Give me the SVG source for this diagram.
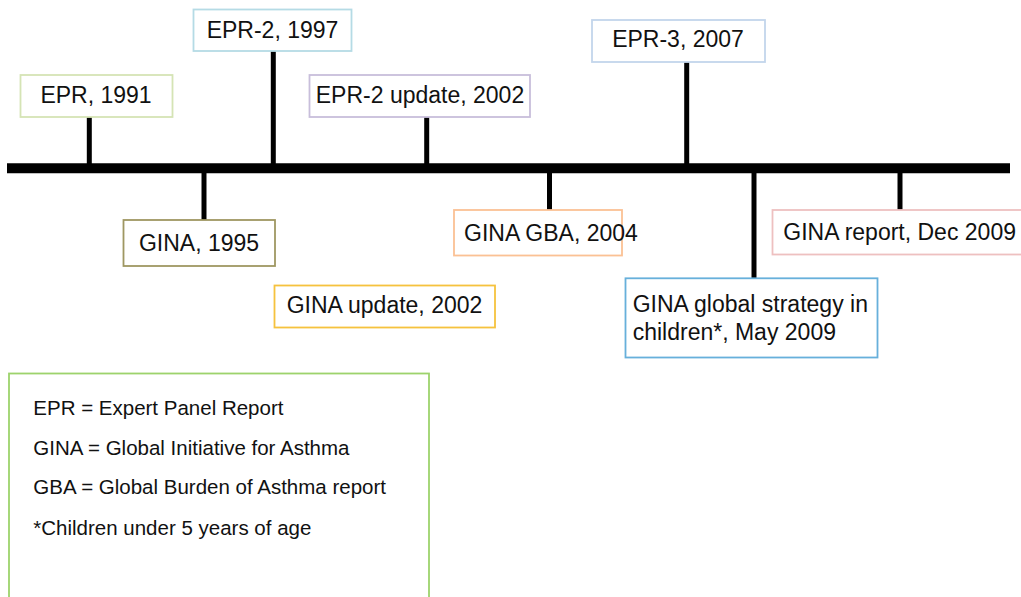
<svg xmlns="http://www.w3.org/2000/svg" width="1021" height="597" viewBox="0 0 1021 597">
<style>
  .box { fill: #ffffff; stroke-width: 1.8; }
  .lbl { font-family: "Liberation Sans", Arial, Helvetica, sans-serif; font-size: 23px; fill: #111111; }
  .leg { font-family: "Liberation Sans", Arial, Helvetica, sans-serif; font-size: 20.5px; fill: #111111; }
  .stem { stroke: #000000; stroke-width: 5; fill: none; }
  .bar { stroke: #000000; stroke-width: 10; fill: none; }
</style>
<rect x="0" y="0" width="1021" height="597" fill="#ffffff"/>
<g id="connectors">
  <line class="bar" x1="7" y1="168.3" x2="1010" y2="168.3"/>
  <line class="stem" x1="89.3" y1="117" x2="89.3" y2="164"/>
  <line class="stem" x1="273.3" y1="51" x2="273.3" y2="164"/>
  <line class="stem" x1="426.7" y1="117" x2="426.7" y2="164"/>
  <line class="stem" x1="686.7" y1="62" x2="686.7" y2="164"/>
  <line class="stem" x1="204" y1="172" x2="204" y2="220"/>
  <line class="stem" x1="549.5" y1="172" x2="549.5" y2="210"/>
  <line class="stem" x1="754" y1="172" x2="754" y2="278"/>
  <line class="stem" x1="900" y1="172" x2="900" y2="210"/>
</g>
<g id="epr1991">
  <rect class="box" x="20.5" y="75" width="152" height="42" stroke="#d5e4b5"/>
  <text class="lbl" x="96" y="103" text-anchor="middle">EPR, 1991</text>
</g>
<g id="epr2-1997">
  <rect class="box" x="193.5" y="9.5" width="158" height="41.5" stroke="#b5dbe5"/>
  <text class="lbl" x="272.5" y="38.3" text-anchor="middle">EPR-2, 1997</text>
</g>
<g id="epr2-update-2002">
  <rect class="box" x="309.5" y="75" width="220.5" height="42" stroke="#c8bedb"/>
  <text class="lbl" x="420" y="102.5" text-anchor="middle">EPR-2 update, 2002</text>
</g>
<g id="epr3-2007">
  <rect class="box" x="592" y="20" width="173" height="42" stroke="#c3d5ec"/>
  <text class="lbl" x="678" y="47.3" text-anchor="middle">EPR-3, 2007</text>
</g>
<g id="gina1995">
  <rect class="box" x="123.5" y="220" width="151.5" height="46" stroke="#9f9762"/>
  <text class="lbl" x="199" y="250.7" text-anchor="middle">GINA, 1995</text>
</g>
<g id="gina-update-2002">
  <rect class="box" x="274.5" y="285.5" width="220.5" height="42" stroke="#f6c23e"/>
  <text class="lbl" x="384.5" y="313.3" text-anchor="middle">GINA update, 2002</text>
</g>
<g id="gina-gba-2004">
  <rect class="box" x="454" y="210" width="168" height="45.5" stroke="#fbc194"/>
  <text class="lbl" x="464" y="240.7">GINA GBA, 2004</text>
</g>
<g id="gina-children-2009">
  <rect class="box" x="625.5" y="278.3" width="252" height="79.2" stroke="#67b0db"/>
  <text class="lbl" x="632.7" y="311.5">GINA global strategy in</text>
  <text class="lbl" x="632.7" y="339.5">children*, May 2009</text>
</g>
<g id="gina-report-2009">
  <rect class="box" x="772.5" y="210" width="260" height="44.5" stroke="#eec0c0"/>
  <text class="lbl" x="783.3" y="240">GINA report, Dec 2009</text>
</g>
<g id="legend">
  <rect class="box" x="9" y="373.5" width="420" height="240" stroke="#9dd36c"/>
  <text class="leg" x="33.3" y="415">EPR = Expert Panel Report</text>
  <text class="leg" x="33.3" y="455">GINA = Global Initiative for Asthma</text>
  <text class="leg" x="33.3" y="494.3">GBA = Global Burden of Asthma report</text>
  <text class="leg" x="33.3" y="535">*Children under 5 years of age</text>
</g>
</svg>
